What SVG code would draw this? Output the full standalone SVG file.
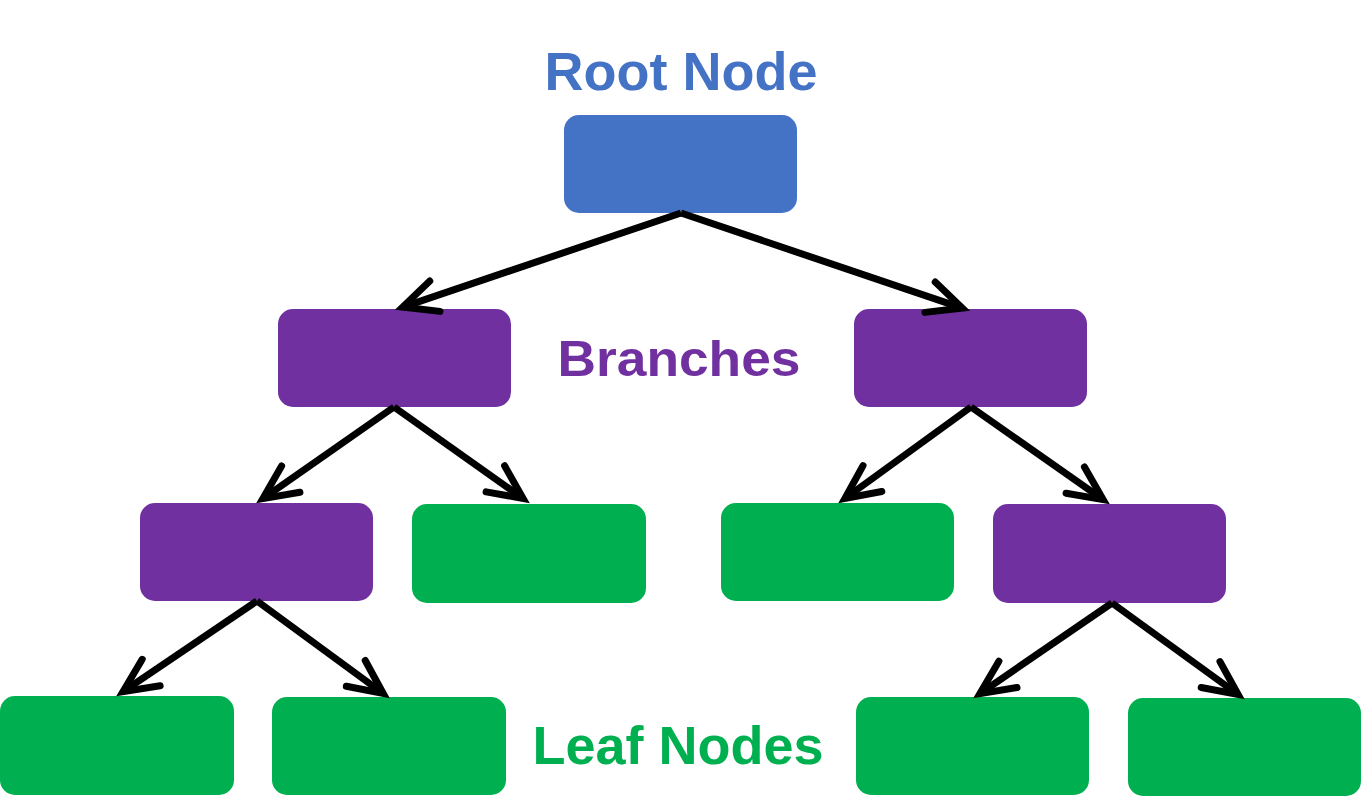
<svg xmlns="http://www.w3.org/2000/svg" width="1361" height="811" viewBox="0 0 1361 811">
<style>
.blue{fill:#4472C4}
.purple{fill:#7030A0}
.green{fill:#00B050}
.lbl{font-family:"Liberation Sans",Arial,sans-serif;font-weight:bold;text-anchor:middle}
.edge{stroke:#000;stroke-width:7;fill:none;marker-end:url(#arr)}
</style>
<defs>
<marker id="arr" markerUnits="userSpaceOnUse" orient="auto" refX="0" refY="0" markerWidth="80" markerHeight="80" viewBox="-50 -40 80 80" overflow="visible">
<path d="M -34,-16 L 0,0 L -34,16" fill="none" stroke="#000" stroke-width="7" stroke-linecap="round" stroke-linejoin="miter" stroke-miterlimit="10"/>
</marker>
</defs>
<rect width="1361" height="811" fill="#fff"/>
<g id="label-root"><text class="lbl" x="681" y="90" font-size="54" fill="#4472C4">Root Node</text></g>
<g id="label-branches"><text class="lbl" x="679" y="376" font-size="50" fill="#7030A0" textLength="243" lengthAdjust="spacingAndGlyphs">Branches</text></g>
<g id="label-leaf"><text class="lbl" x="678" y="764" font-size="54" fill="#00B050">Leaf Nodes</text></g>
<g id="root"><rect class="blue" x="564" y="115" width="233" height="98" rx="15"/></g>
<g id="branch-l"><rect class="purple" x="278" y="309" width="233" height="98" rx="15"/></g>
<g id="branch-r"><rect class="purple" x="854" y="309" width="233" height="98" rx="15"/></g>
<g id="branch-ll"><rect class="purple" x="140" y="503" width="233" height="98" rx="15"/></g>
<g id="leaf-lr"><rect class="green" x="412" y="504" width="234" height="99" rx="15"/></g>
<g id="leaf-rl"><rect class="green" x="721" y="503" width="233" height="98" rx="15"/></g>
<g id="branch-rr"><rect class="purple" x="993" y="504" width="233" height="99" rx="15"/></g>
<g id="leaf-1"><rect class="green" x="0" y="696" width="234" height="99" rx="15"/></g>
<g id="leaf-2"><rect class="green" x="272" y="697" width="234" height="98" rx="15"/></g>
<g id="leaf-3"><rect class="green" x="856" y="697" width="233" height="98" rx="15"/></g>
<g id="leaf-4"><rect class="green" x="1128" y="698" width="233" height="98" rx="15"/></g>
<g id="connectors">
<line class="edge" x1="681" y1="213" x2="402.7" y2="307.1"/>
<line class="edge" x1="681" y1="213" x2="962.3" y2="308.1"/>
<line class="edge" x1="394" y1="407" x2="262.9" y2="498.6"/>
<line class="edge" x1="394" y1="407" x2="523.1" y2="498.5"/>
<line class="edge" x1="257" y1="601" x2="123" y2="691.6"/>
<line class="edge" x1="257" y1="601" x2="383.2" y2="693.5"/>
<line class="edge" x1="971" y1="407" x2="844.9" y2="498.5"/>
<line class="edge" x1="971" y1="407" x2="1103.1" y2="499.6"/>
<line class="edge" x1="1112" y1="603" x2="979.9" y2="693.6"/>
<line class="edge" x1="1112" y1="603" x2="1238.1" y2="694.5"/>
</g>
</svg>
